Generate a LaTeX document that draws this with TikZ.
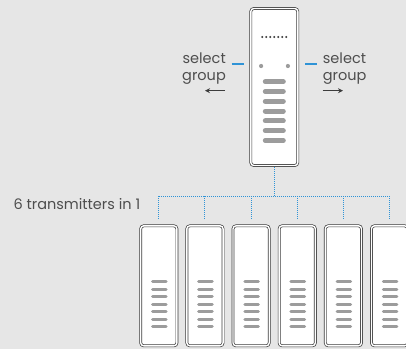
\documentclass[tikz,border=0pt]{standalone}
\usepackage{fontspec}
\setmainfont{Poppins}
\usetikzlibrary{arrows.meta,positioning,calc}
\definecolor{bggray}{HTML}{E6E6E6}
\definecolor{ink}{HTML}{4E4E4E}
\definecolor{frame}{HTML}{3C3C3C}
\definecolor{ledgray}{HTML}{9C9C9C}
\definecolor{wire}{HTML}{2F93D6}
\tikzset{
  unit/.style={rounded corners=3pt, draw=frame, double=white, double distance=1.4pt,
    fill=white, line width=.7pt, inner sep=0pt},
  hub/.style={unit, minimum width=47pt, minimum height=157pt},
  tx/.style={unit, minimum width=36.2pt, minimum height=120pt},
  bar/.style={draw=ledgray, line cap=round},
  label/.style={font=\fontsize{14.5}{17}\selectfont, text=ink, inner sep=0pt},
  bus/.style={draw=wire, line width=1pt, dash pattern=on 1pt off 1pt},
  tick/.style={draw=wire, line width=1.1pt},
  hint/.style={-{Stealth[length=5pt, width=5pt]}, draw=frame, line width=1.3pt}
}

\begin{document}
\begin{tikzpicture}[x=1pt,y=-1pt]
  \fill[bggray] (0,0) rectangle (406,349);
  \clip (0,0) rectangle (406,349);

  % selector unit
  \node[hub] (hub) at (274.3,87) {};
  \foreach \k in {0,...,6}
    \fill[frame] ($(hub.center)+(-12+4*\k,-50)$) circle (1.15pt);
  \fill[ledgray] ($(hub.center)+(-13.2,-21)$) circle (2.1pt);
  \fill[ledgray] ($(hub.center)+(13.6,-21)$) circle (2.1pt);
  \foreach \k in {0,...,6}
    \draw[bar, line width=5pt] ($(hub.center)+(-9,-5.3+9.8*\k)$) -- ++(18,0);

  \node[label, align=right, anchor=north east] (selL) at (226,52.5) {select\\group};
  \node[label, align=left, anchor=north west] (selR) at (322.7,52.5) {select\\group};
  \draw[tick, shorten >=6.5pt] ($(selL.north east)+(5.7,11.5)$) coordinate (tl) -- (tl -| hub.west);
  \draw[tick, shorten <=7.2pt] (hub.east |- tl) -- ($(selR.north west)+(-6,11.5)$);
  \draw[hint] ($(selL.north east)+(-1,38.2)$) -- ++(-20,0);
  \draw[hint] ($(selR.north west)+(0,38.2)$) -- ++(20.3,0);

  % transmitters
  \foreach \i in {1,...,6} {
    \node[tx] (tx\i) at ({158.8+46.15*(\i-1)},285.8) {};
    \foreach \k in {0,...,6}
      \draw[bar, line width=3pt] ($(tx\i.center)+(-6.3,-4.1+7.5*\k)$) -- ++(13.6,0);
  }
  \node[label, anchor=west] (caption) at (13.3,204.3) {6 transmitters in 1};

  % dotted bus
  \coordinate (fork) at ($(hub.south)+(0,30.5)$);
  \draw[bus, shorten <=1.4pt] (hub.south) -- (fork);
  \draw[bus] (fork -| tx1) -- (fork -| tx6);
  \foreach \i in {1,...,6}
    \draw[bus, shorten >=5.8pt] (fork -| tx\i) -- (tx\i.north);
\end{tikzpicture}
\end{document}
